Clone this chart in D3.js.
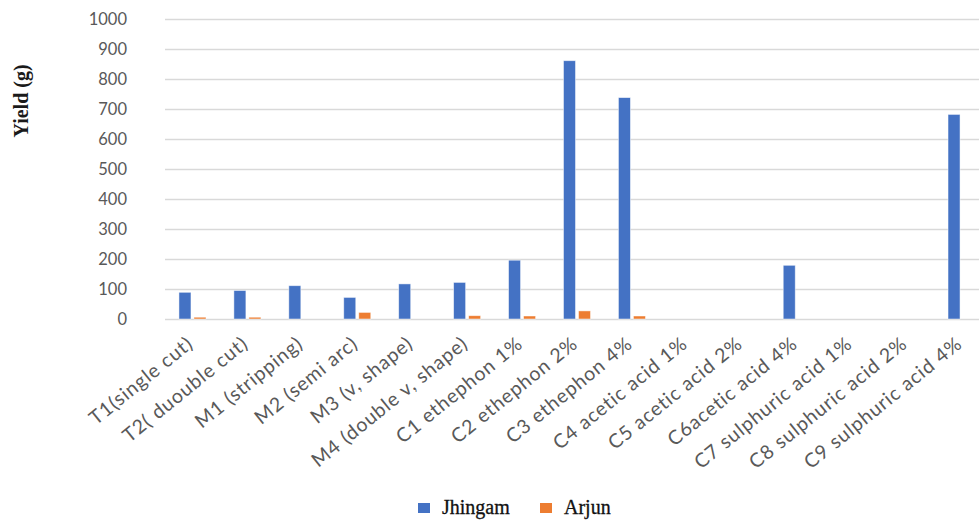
<!DOCTYPE html>
<html>
<head>
<meta charset="utf-8">
<script src="https://cdn.jsdelivr.net/npm/d3@7"></script>
<style>
  html, body { margin: 0; padding: 0; background: #fff; }
  svg { display: block; }
</style>
</head>
<body>
<svg id="chart" width="979" height="522"></svg>
<script>
const categories = [
  "T1(single cut)", "T2( duouble cut)", "M1 (stripping)", "M2 (semi arc)",
  "M3 (v, shape)", "M4 (double v, shape)", "C1 ethephon 1%", "C2 ethephon 2%",
  "C3 ethephon 4%", "C4 acetic acid 1%", "C5 acetic acid 2%", "C6acetic acid 4%",
  "C7 sulphuric acid 1%", "C8 sulphuric acid 2%", "C9 sulphuric acid 4%"
];
const seriesNames = ["Jhingam", "Arjun"];
const jhingam = [89, 95, 111, 72, 117, 122, 196, 861, 738, 0, 0, 179, 0, 0, 682];
const arjun   = [6, 6, 0, 22, 0, 11, 10, 27, 10, 0, 0, 0, 0, 0, 0];
const yTicks = [0, 100, 200, 300, 400, 500, 600, 700, 800, 900, 1000];
const colors = ["#4472C4", "#ED7D31"];

const svg = d3.select("#chart");

const x = d3.scaleBand().domain(categories).range([165, 989])
  .paddingInner(0.508).paddingOuter(0.254);
const xs = d3.scaleBand().domain(seriesNames).range([0, x.bandwidth()]).paddingInner(0.2);
const y = d3.scaleLinear().domain([0, 1000]).range([319, 19]);

// gridlines
svg.append("g").selectAll("line").data(yTicks).join("line")
  .attr("x1", 165).attr("x2", 979)
  .attr("y1", d => y(d) + 0.5).attr("y2", d => y(d) + 0.5)
  .attr("stroke", "#d9d9d9").attr("stroke-width", 1.5);

// y axis labels
const yAxis = d3.axisLeft(y).tickValues(yTicks).tickFormat(d3.format("d")).tickSize(0).tickPadding(0);
const gy = svg.append("g").attr("transform", "translate(127,0)").call(yAxis);
gy.select(".domain").remove();
gy.selectAll("text")
  .attr("font-family", "Lato, 'Open Sans', sans-serif")
  .attr("font-size", 16.5).attr("fill", "#595959");

// bars
const data = categories.map((c, i) => ({ c, vals: [jhingam[i], arjun[i]] }));
const groups = svg.append("g").selectAll("g").data(data).join("g")
  .attr("transform", d => `translate(${x(d.c)},0)`);
groups.selectAll("rect")
  .data(d => d.vals.map((v, k) => ({ v, k })).filter(e => e.v > 0))
  .join("rect")
  .attr("x", e => xs(seriesNames[e.k]))
  .attr("width", xs.bandwidth())
  .attr("y", e => y(e.v))
  .attr("height", e => y(0) - y(e.v))
  .attr("fill", e => colors[e.k])
  .attr("stroke", "#ffffff").attr("stroke-opacity", 0.6).attr("stroke-width", 0.8);

// x axis labels
const gx = svg.append("g").attr("transform", `translate(0,${y(0)})`)
  .call(d3.axisBottom(x).tickSize(0).tickPadding(0));
gx.select(".domain").remove();
gx.selectAll("text")
  .attr("font-family", "Lato, 'Open Sans', sans-serif")
  .attr("font-size", 19.5).attr("fill", "#595959")
  .attr("letter-spacing", 0.9)
  .attr("text-anchor", "end")
  .attr("dy", 0)
  .attr("transform", "translate(2,27) rotate(-39)");

// y title
svg.append("text")
  .attr("transform", "translate(28,101) rotate(-90)")
  .attr("text-anchor", "middle")
  .attr("font-family", "'Liberation Serif', 'Times New Roman', serif")
  .attr("font-weight", "bold").attr("font-size", 20).attr("fill", "#1a1a1a")
  .text("Yield (g)");

// legend
const legend = svg.append("g");
const legX = [418, 540];
seriesNames.forEach((s, k) => {
  legend.append("rect").attr("x", legX[k]).attr("y", 503).attr("width", 12).attr("height", 10)
    .attr("fill", colors[k]);
  legend.append("text").attr("x", legX[k] + 24).attr("y", 514)
    .attr("font-family", "'Liberation Serif', 'Times New Roman', serif")
    .attr("font-size", 20).attr("fill", "#111").attr("stroke", "#111").attr("stroke-width", 0.3)
    .text(s);
});
</script>
</body>
</html>
